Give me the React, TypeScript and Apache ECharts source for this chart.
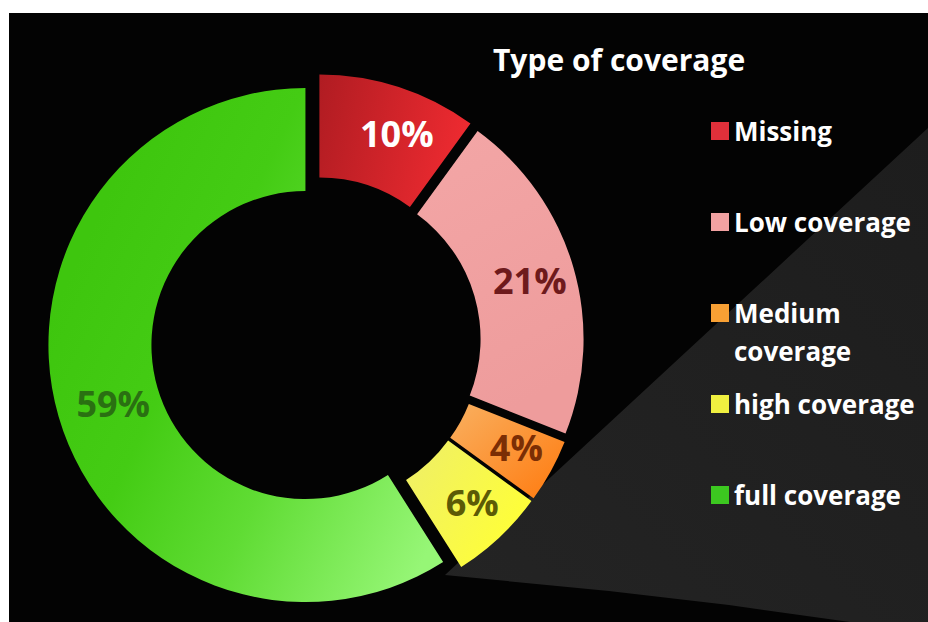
import React, { useEffect, useRef } from "react";
import * as echarts from "echarts";

const categories = ["Missing", "Low coverage", "Medium coverage", "high coverage", "full coverage"];
const values = [10, 21, 4, 6, 59];
const titleText = "Type of coverage";

const gradientStops: [number, number, number, number, [number, string][]][] = [
  [0, 0, 1, 0.2, [[0, "#b01c22"], [1, "#ec2a30"]]],
  [0, 0, 0.3, 1, [[0, "#f3a6a6"], [1, "#ee9c9c"]]],
  [0, 0, 1, 1, [[0, "#f9b060"], [1, "#ff7a0e"]]],
  [0, 0, 1, 0.6, [[0, "#eeee6a"], [1, "#ffff36"]]],
  [0, 0.45, 0.9, 1, [[0, "#3ec60e"], [0.3, "#44cc14"], [0.6, "#60dc34"], [1, "#96f676"]]],
];
const labelColors = ["#ffffff", "#6e1a1c", "#7b2e05", "#5c5a06", "#2a7012"];
const labelNudges: [number, number][] = [[13, 5], [3, 2], [8, -4], [6, -4], [8, 4]];
const legendColors = ["#e0303a", "#f2a2a2", "#f8a034", "#f0f040", "#3cc820"];

const FONT = "'Open Sans', 'Noto Sans', sans-serif";

export default function App() {
  const ref = useRef<HTMLDivElement>(null);
  useEffect(() => {
    if (!ref.current) return;
    const chart = echarts.init(ref.current, null, { renderer: "svg" });
    const legendTop0 = 105;
    const legendStep = 91;
    const legends = categories.map((name, i) => {
      const multi = name === "Medium coverage";
      return {
        orient: "vertical",
        left: 702,
        top: legendTop0 + i * legendStep + (multi ? -44 : 0),
        padding: 0,
        itemWidth: 18,
        itemHeight: 18,
        icon: "rect",
        selectedMode: false,
        data: [{ name, itemStyle: { color: legendColors[i] } }],
        formatter: (n: string) => (n === "Medium coverage" ? "\nMedium\ncoverage" : n),
        textStyle: {
          color: "#ffffff",
          fontFamily: FONT,
          fontWeight: "bold",
          fontSize: 26,
          lineHeight: multi ? 38 : 18,
        },
      };
    });
    chart.setOption({
      animation: false,
      backgroundColor: "#030303",
      title: {
        text: titleText,
        left: 484,
        top: 29,
        padding: 0,
        textStyle: { color: "#ffffff", fontFamily: FONT, fontWeight: "bold", fontSize: 30, lineHeight: 34 },
      },
      legend: legends,
      graphic: [
        {
          type: "polygon",
          silent: true,
          z: -10,
          shape: {
            points: [
              [919, 115],
              [919, 609],
              [841, 609],
              [720, 592],
              [600, 578],
              [436, 562],
            ],
          },
          style: {
            fill: new echarts.graphic.LinearGradient(1, 0, 0, 1, [
              { offset: 0, color: "#1d1d1d" },
              { offset: 1, color: "#242424" },
            ]),
          },
        },
      ],
      series: [
        {
          type: "pie",
          center: [307, 329],
          radius: [154, 257],
          startAngle: 90,
          clockwise: true,
          selectedMode: "multiple",
          selectedOffset: 11,
          avoidLabelOverlap: false,
          emphasis: { disabled: true },
          select: { itemStyle: { borderWidth: 0 } },
          itemStyle: { borderWidth: 0 },
          label: {
            show: true,
            position: "inside",
            formatter: "{c}%",
            fontFamily: FONT,
            fontWeight: "bold",
            fontSize: 36,
          },
          labelLine: { show: false },
          data: categories.map((name, i) => {
            const g = gradientStops[i];
            const [dx, dy] = labelNudges[i];
            return {
              name,
              value: values[i],
              selected: true,
              itemStyle: {
                color: new echarts.graphic.LinearGradient(
                  g[0],
                  g[1],
                  g[2],
                  g[3],
                  g[4].map(([offset, color]) => ({ offset, color }))
                ),
              },
              label: {
                color: labelColors[i],
                padding: [Math.max(0, 2 * dy), Math.max(0, -2 * dx), Math.max(0, -2 * dy), Math.max(0, 2 * dx)],
              },
            };
          }),
        },
      ],
    });
    return () => chart.dispose();
  }, []);
  return (
    <div
      ref={ref}
      style={{ position: "absolute", left: 9, top: 13, width: 919, height: 609 }}
    />
  );
}
